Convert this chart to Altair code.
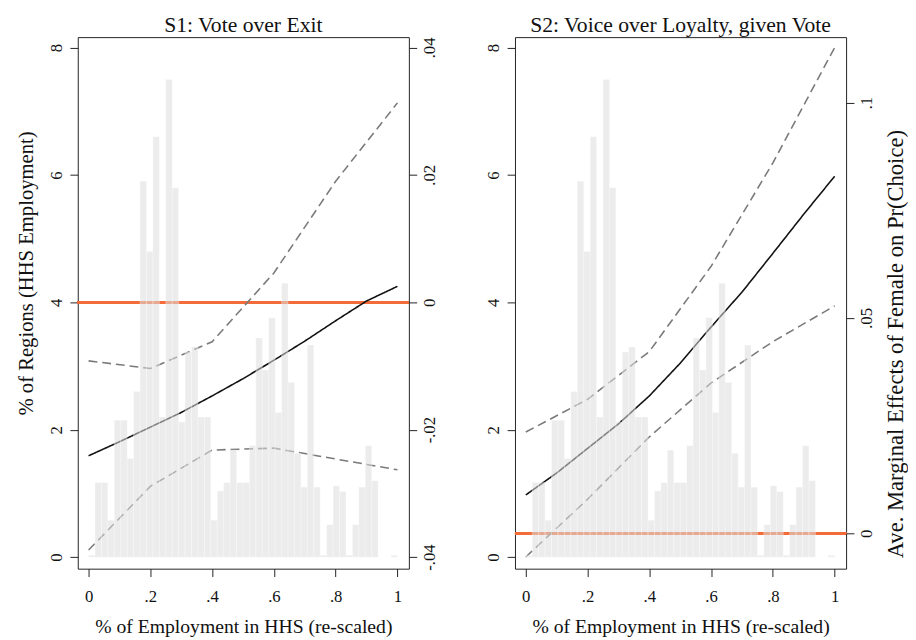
import altair as alt
import pandas as pd

# Histogram: % of regions per bin of HHS employment share (48 bins on [0,1])
hist_pct = [0.03, 1.17, 1.17, 0.58, 2.15, 2.15, 1.55, 2.6, 5.9, 4.8, 6.6, 2.2,
            7.5, 5.8, 2.12, 3.22, 3.3, 2.2, 2.2, 0.58, 1.04, 1.17, 1.68, 1.17,
            1.17, 1.75, 3.44, 2.94, 3.76, 2.27, 4.3, 2.74, 1.63, 1.1, 3.33, 1.1,
            0.03, 0.51, 1.12, 1.03, 0.03, 0.51, 1.1, 1.75, 1.2, 0.0, 0.0, 0.03]

# Marginal effects (solid) and confidence bounds (dashed)
x_me = [0.0, 0.1, 0.2, 0.3, 0.4, 0.5, 0.6, 0.7, 0.8, 0.9, 1.0]
x_ci = [0.0, 0.2, 0.4, 0.6, 0.8, 1.0]

s1_me = [-0.0241, -0.0219, -0.0196, -0.0173, -0.0147, -0.0120, -0.0091, -0.0061, -0.0029, 0.0002, 0.0025]
s1_hi = [-0.0092, -0.0104, -0.0062, 0.0046, 0.0190, 0.0313]
s1_lo = [-0.0389, -0.0289, -0.0232, -0.0229, -0.0246, -0.0263]

s2_me = [0.0089, 0.0140, 0.0197, 0.0254, 0.0319, 0.0395, 0.0479, 0.0560, 0.0650, 0.0741, 0.0829]
s2_hi = [0.0235, 0.0311, 0.0422, 0.0620, 0.0860, 0.1128]
s2_lo = [-0.0055, 0.0079, 0.0224, 0.0349, 0.0445, 0.0528]

titles = ["S1: Vote over Exit", "S2: Voice over Loyalty, given Vote"]
x_title = "% of Employment in HHS (re-scaled)"
left_title = "% of Regions (HHS Employment)"
right_title = "Ave. Marginal Effects of Female on Pr(Choice)"

FONT = "Liberation Serif"
n = len(hist_pct)
hist_df = pd.DataFrame({"lo": [i / n for i in range(n)],
                        "hi": [(i + 1) / n for i in range(n)],
                        "pct": hist_pct})

X_DOMAIN = [-0.035, 1.037]
LEFT_DOMAIN = [-0.181, 8.164]
label_expr = ("datum.value == 0 ? '0' : (datum.value < 0 ? '-' : '') + "
              "replace(toString(abs(datum.value)), '0.', '.')")


def lines_df(me, hi, lo):
    rows = []
    for x, v in zip(x_me, me):
        rows.append({"x": x, "v": v, "s": "me"})
    for x, v in zip(x_ci, hi):
        rows.append({"x": x, "v": v, "s": "hi"})
    for x, v in zip(x_ci, lo):
        rows.append({"x": x, "v": v, "s": "lo"})
    return pd.DataFrame(rows)


def panel(title, me, hi, lo, rdomain, rticks, show_left_title, show_right_title):
    xenc = alt.X("x:Q", scale=alt.Scale(domain=X_DOMAIN, nice=False, zero=False),
                 axis=alt.Axis(values=[0, 0.2, 0.4, 0.6, 0.8, 1], labelExpr=label_expr,
                               title=x_title, titlePadding=13, labelPadding=12))
    rscale = alt.Scale(domain=rdomain, nice=False, zero=False)
    if show_right_title:
        raxis = alt.Axis(orient="right", values=rticks, labelExpr=label_expr,
                         labelAngle=270, labelPadding=5, title=right_title,
                         titleAngle=270, titleBaseline="top", titlePadding=10,
                         titleFontSize=23, titleY=312)
    else:
        raxis = alt.Axis(orient="right", values=rticks, labelExpr=label_expr,
                         labelAngle=270, labelPadding=5, title=None)
    if show_left_title:
        laxis = alt.Axis(orient="left", values=[0, 2, 4, 6, 8], labelAngle=270,
                         labelPadding=5, title=left_title, titlePadding=11,
                         titleFontSize=21, titleY=240)
    else:
        laxis = alt.Axis(orient="left", values=[0, 2, 4, 6, 8], labelAngle=270,
                         labelPadding=5, title=None)
    df = lines_df(me, hi, lo)
    lines = alt.Chart(df).mark_line(strokeWidth=1.6).encode(
        x=xenc,
        y=alt.Y("v:Q", scale=rscale, axis=raxis),
        detail="s:N",
        color=alt.Color("s:N", scale=alt.Scale(domain=["me", "hi", "lo"],
                                               range=["#111111", "#7a7a7a", "#7a7a7a"]),
                        legend=None),
        strokeDash=alt.StrokeDash("s:N", scale=alt.Scale(domain=["me", "hi", "lo"],
                                                         range=[[1, 0], [9, 5], [9, 5]]),
                                  legend=None),
    )
    zero = alt.Chart(df).mark_rule(color="#f26b38", strokeWidth=2).encode(
        y=alt.Y(datum=0, scale=rscale)
    )
    inner = alt.layer(zero, lines)
    bars = alt.Chart(hist_df).mark_rect(fill="#dcdcdc", fillOpacity=0.55,
                                        stroke="#ffffff", strokeWidth=0.5,
                                        strokeOpacity=0.6).encode(
        x=alt.X("lo:Q", scale=alt.Scale(domain=X_DOMAIN, nice=False, zero=False)),
        x2="hi:Q",
        y=alt.Y("pct:Q", scale=alt.Scale(domain=LEFT_DOMAIN, nice=False, zero=False),
                axis=laxis),
        y2=alt.datum(0),
    )
    return alt.layer(inner, bars).resolve_scale(y="independent").properties(
        width=337, height=541,
        title=alt.TitleParams(title, fontSize=22, font=FONT, fontWeight="normal",
                              offset=0, color="#111111"),
    )


p1 = panel(titles[0], s1_me, s1_hi, s1_lo, [-0.04182, 0.04162],
           [-0.04, -0.02, 0, 0.02, 0.04], True, False)
p2 = panel(titles[1], s2_me, s2_hi, s2_lo, [-0.00822, 0.1152],
           [0, 0.05, 0.1], False, True)

chart = alt.hconcat(p1, p2, spacing=46).properties(
    padding={"left": 7, "top": 0, "right": 0, "bottom": 0}
).configure_view(stroke="#222222", strokeWidth=1).configure_axis(
    labelFont=FONT, titleFont=FONT, labelFontSize=17, titleFontSize=20,
    labelColor="#111111", titleColor="#111111", titleFontWeight="normal",
    domain=False, grid=False, tickSize=8, tickColor="#222222", tickWidth=1,
)

chart.save("out.html", embed_options={"renderer": "svg", "actions": False})
